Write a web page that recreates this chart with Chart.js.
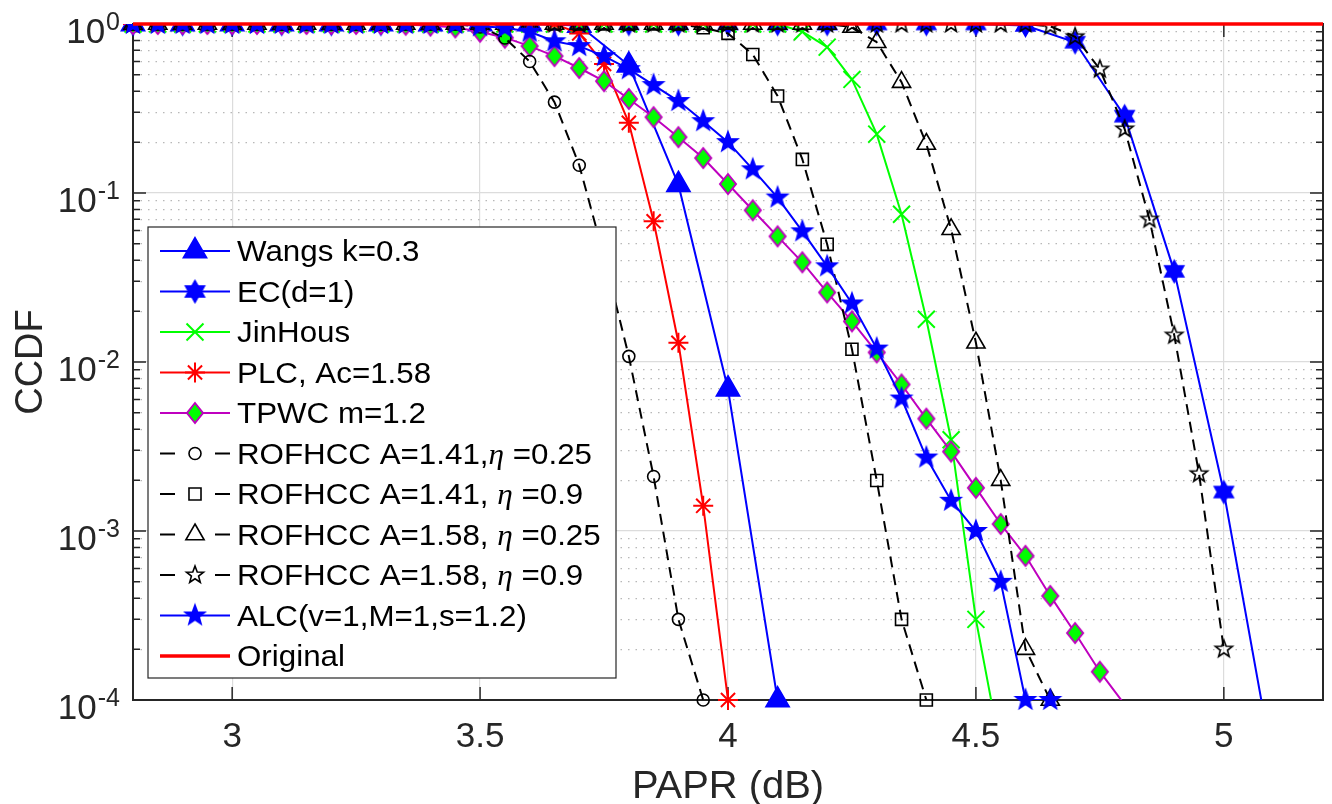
<!DOCTYPE html>
<html>
<head>
<meta charset="utf-8">
<script src="https://cdn.jsdelivr.net/npm/chart.js@4.4.1/dist/chart.umd.min.js"></script>
<style>
  html, body { margin: 0; padding: 0; background: #ffffff; }
  #wrap { width: 1332px; height: 804px; }
</style>
</head>
<body>
<div id="wrap"><canvas id="ccdfChart" width="1332" height="804"></canvas></div>
<script>
// PAPR grids (dB)
const papr05 = [2.8, 2.85, 2.9, 2.95, 3.0, 3.05, 3.1, 3.15, 3.2, 3.25, 3.3, 3.35, 3.4, 3.45, 3.5, 3.55, 3.6, 3.65, 3.7, 3.75,
  3.8, 3.85, 3.9, 3.95, 4.0, 4.05, 4.1, 4.15, 4.2, 4.25, 4.3, 4.35, 4.4, 4.45, 4.5, 4.55, 4.6, 4.65, 4.7, 4.75,
  4.8, 4.85, 4.9, 4.95, 5.0, 5.05, 5.1, 5.15, 5.2];
const papr10 = [2.8, 2.9, 3.0, 3.1, 3.2, 3.3, 3.4, 3.5, 3.6, 3.7, 3.8, 3.9, 4.0, 4.1, 4.2, 4.3, 4.4, 4.5, 4.6, 4.7, 4.8, 4.9, 5.0, 5.1];

// CCDF values
const wangsCcdf = [1, 1, 1, 1, 1, 1, 1, 1, 1, 0.98, 0.57, 0.112, 0.0069, 1e-4];
const ecCcdf = [1, 1, 1, 1, 1, 1, 1, 1, 1, 1, 1, 1, 1, 1, 1, 1, 1, 1, 0.98, 0.78, 0.285, 0.0344, 0.0017, 4e-5];
const jinHousCcdf = [1, 1, 1, 1, 1, 1, 1, 1, 1, 1, 1, 1, 1, 1, 1, 1, 1, 1, 1, 1, 1, 1, 1, 1, 1, 1, 1,
  0.9, 0.73, 0.47, 0.223, 0.0748, 0.0179, 0.00347, 0.0003, 5e-5];
const plcCcdf = [1, 1, 1, 1, 1, 1, 1, 1, 1, 1, 1, 1, 1, 1, 1, 1, 1, 1,
  0.88, 0.58, 0.26, 0.068, 0.013, 0.00141, 1e-4];
const tpwcCcdf = [1, 1, 1, 1, 1, 1, 1, 1, 1, 1, 1,
  0.99, 0.98, 0.955, 0.9, 0.83, 0.74, 0.646, 0.549, 0.459, 0.36, 0.281, 0.214, 0.161, 0.113, 0.079, 0.0554, 0.0389,
  0.0258, 0.0174, 0.0114, 0.00736, 0.00462, 0.00295, 0.0018, 0.0011, 0.000713, 0.000413, 0.000249, 0.000147, 9.4e-5];
const rof141a = [1, 1, 1, 1, 1, 1, 1, 1, 1, 1, 1, 1, 1, 1,
  0.96, 0.826, 0.6, 0.345, 0.146, 0.042, 0.0108, 0.0021, 0.0003, 1e-4];
const rof141b = [1, 1, 1, 1, 1, 1, 1, 1, 1, 1, 1, 1, 1, 1, 1, 1, 1, 1, 1, 1, 1, 1, 1,
  0.95, 0.88, 0.66, 0.375, 0.158, 0.0497, 0.0119, 0.00199, 0.0003, 1e-4];
const rof158a = [1, 1, 1, 1, 1, 1, 1, 1, 1, 1, 1, 1, 1, 1, 1, 1, 1, 1, 1, 1, 1, 1, 1, 1, 1, 1, 1, 1, 1,
  0.96, 0.78, 0.453, 0.195, 0.061, 0.013, 0.002, 0.0002, 1e-4];
const rof158b = [1, 1, 1, 1, 1, 1, 1, 1, 1, 1, 1, 1, 1, 1, 1, 1, 1, 1, 1, 1, 1, 1, 1, 1, 1, 1, 1, 1, 1, 1, 1, 1, 1, 1, 1, 1, 1,
  0.97, 0.84, 0.54, 0.239, 0.0699, 0.0144, 0.00218, 0.0002];
const alcCcdf = [1, 1, 1, 1, 1, 1, 1, 1, 1, 1, 1, 1, 1, 1,
  0.97, 0.95, 0.9, 0.79, 0.74, 0.646, 0.54, 0.435, 0.35, 0.266, 0.2, 0.138, 0.094, 0.0593, 0.0368, 0.0222, 0.012,
  0.00608, 0.00272, 0.00151, 0.001, 0.0005, 1e-4, 1e-4];
const originalCcdf = [1, 1, 1, 1, 1, 1, 1, 1, 1, 1, 1, 1, 1, 1, 1, 1, 1, 1, 1, 1, 1, 1, 1, 1, 1,
  1, 1, 1, 1, 1, 1, 1, 1, 1, 1, 1, 1, 1, 1, 1, 1, 1, 1, 1, 1, 1, 1, 1, 1];

// axis ticks
const xTicks = [3, 3.5, 4, 4.5, 5];
const yDecades = [1e-4, 1e-3, 1e-2, 1e-1, 1];
const Y_MIN = 1e-4;

const FONT = '"Liberation Sans", Arial, Helvetica, sans-serif';
const isDecade = v => Math.abs(Math.log10(v) - Math.round(Math.log10(v))) < 1e-6;

// marker images for shapes Chart.js lacks
function starCanvas(nPts, outerR, innerRatio, fill, stroke, lw) {
  const size = Math.ceil(2 * (outerR + lw + 2));
  const c = document.createElement('canvas');
  c.width = size; c.height = size;
  const g = c.getContext('2d');
  g.translate(size / 2, size / 2);
  g.beginPath();
  for (let k = 0; k < nPts * 2; k++) {
    const r = k % 2 === 0 ? outerR : outerR * innerRatio;
    const a = -Math.PI / 2 + k * Math.PI / nPts;
    if (k === 0) g.moveTo(r * Math.cos(a), r * Math.sin(a));
    else g.lineTo(r * Math.cos(a), r * Math.sin(a));
  }
  g.closePath();
  if (fill) { g.fillStyle = fill; g.fill(); }
  g.lineWidth = lw; g.strokeStyle = stroke; g.stroke();
  return c;
}
function diamondCanvas(w, h, fill, stroke, lw) {
  const cw = Math.ceil(w + 2 * lw + 4), ch = Math.ceil(h + 2 * lw + 4);
  const c = document.createElement('canvas');
  c.width = cw; c.height = ch;
  const g = c.getContext('2d');
  g.translate(cw / 2, ch / 2);
  g.beginPath();
  g.moveTo(0, -h / 2); g.lineTo(w / 2, 0); g.lineTo(0, h / 2); g.lineTo(-w / 2, 0);
  g.closePath();
  g.fillStyle = fill; g.fill();
  g.lineWidth = lw; g.strokeStyle = stroke; g.stroke();
  return c;
}

const hexBlue = starCanvas(6, 11, 0.577, '#0000ff', '#0000ff', 1.5);
const pentBlue = starCanvas(5, 10.5, 0.42, '#0000ff', '#0000ff', 1.5);
const pentOpen = starCanvas(5, 9, 0.42, null, '#000000', 1.6);
const diamondGreen = diamondCanvas(16, 20, '#00ff00', '#bf00bf', 2);

const DASHED = [11, 7];
const series = [
  { label: [['Wangs k=0.3']], x: papr10, y: wangsCcdf, color: '#0000ff', dash: [], style: 'triangle', r: 13.5, fill: '#0000ff', mlw: 1.5 },
  { label: [['EC(d=1)']], x: papr10, y: ecCcdf, color: '#0000ff', dash: [], style: hexBlue, r: 11 },
  { label: [['JinHous']], x: papr05, y: jinHousCcdf, color: '#00ff00', dash: [], style: 'crossRot', r: 12, fill: 'rgba(0,0,0,0)', mlw: 2 },
  { label: [['PLC, Ac=1.58']], x: papr05, y: plcCcdf, color: '#ff0000', dash: [], style: 'star', r: 10, fill: 'rgba(0,0,0,0)', mlw: 2 },
  { label: [['TPWC m=1.2']], x: papr05, y: tpwcCcdf, color: '#bf00bf', dash: [], style: diamondGreen, r: 10 },
  { label: [['ROFHCC A=1.41,'], ['η', 'eta'], [' =0.25']], x: papr05, y: rof141a, color: '#000000', dash: DASHED, style: 'circle', r: 6, fill: 'rgba(0,0,0,0)', mlw: 1.6 },
  { label: [['ROFHCC A=1.41, '], ['η', 'eta'], [' =0.9']], x: papr05, y: rof141b, color: '#000000', dash: DASHED, style: 'rect', r: 8.5, fill: 'rgba(0,0,0,0)', mlw: 1.6 },
  { label: [['ROFHCC A=1.58, '], ['η', 'eta'], [' =0.25']], x: papr05, y: rof158a, color: '#000000', dash: DASHED, style: 'triangle', r: 10.5, fill: 'rgba(0,0,0,0)', mlw: 1.6 },
  { label: [['ROFHCC A=1.58, '], ['η', 'eta'], [' =0.9']], x: papr05, y: rof158b, color: '#000000', dash: DASHED, style: pentOpen, r: 9 },
  { label: [['ALC(v=1,M=1,s=1.2)']], x: papr05, y: alcCcdf, color: '#0000ff', dash: [], style: pentBlue, r: 10.5 },
  { label: [['Original']], x: papr05, y: originalCcdf, color: '#ff0000', dash: [], style: null, lw: 3.5 }
];

const datasets = [];
series.forEach((s, i) => {
  const pts = s.y.map((v, k) => ({ x: s.x[k], y: v }));
  const order = (series.length - i) * 2;
  // line part: clipped tightly at the axes
  datasets.push({
    data: pts,
    borderColor: s.color,
    borderWidth: s.lw || 2,
    borderDash: s.dash,
    pointRadius: 0,
    pointHoverRadius: 0,
    fill: false,
    tension: 0,
    clip: s.style ? 0 : false,
    order: order
  });
  // marker part: markers on the bottom edge stay whole, points below the range are hidden
  if (s.style) {
    datasets.push({
      data: pts,
      showLine: false,
      pointStyle: s.style,
      pointRadius: c => (c.raw && c.raw.y < Y_MIN) ? 0 : s.r,
      pointHoverRadius: s.r,
      pointBorderColor: s.color,
      pointBackgroundColor: s.fill || s.color,
      pointBorderWidth: s.mlw || 1.5,
      clip: { left: 14, top: 0, right: 14, bottom: 14 },
      order: order - 1
    });
  }
});

function drawText(ctx, str, x, y, font, sx, align) {
  ctx.save();
  ctx.font = font;
  const w = ctx.measureText(str).width * sx;
  let left = x;
  if (align === 'center') left = x - w / 2;
  if (align === 'right') left = x - w;
  ctx.translate(left, y);
  ctx.scale(sx, 1);
  ctx.textAlign = 'left';
  ctx.textBaseline = 'alphabetic';
  ctx.fillText(str, 0, 0);
  ctx.restore();
  return w;
}

function legendMarker(ctx, s, px, py) {
  const opts = { pointStyle: s.style, radius: s.r, borderWidth: s.mlw || 1.5, rotation: 0 };
  if (Chart.helpers && Chart.helpers.drawPoint) {
    Chart.helpers.drawPoint(ctx, opts, px, py);
  } else if (typeof s.style === 'object') {
    ctx.drawImage(s.style, px - s.style.width / 2, py - s.style.height / 2);
  }
}

const framePlugin = {
  id: 'frame',
  beforeDatasetsDraw(chart) {
    const { ctx, chartArea: a, scales: { x, y } } = chart;
    ctx.save();
    ctx.strokeStyle = '#262626';
    ctx.lineWidth = 1.5;
    ctx.beginPath();
    xTicks.forEach(v => {
      const px = x.getPixelForValue(v);
      ctx.moveTo(px, a.bottom); ctx.lineTo(px, a.bottom - 13);
      ctx.moveTo(px, a.top); ctx.lineTo(px, a.top + 13);
    });
    y.ticks.forEach(t => {
      const py = y.getPixelForValue(t.value);
      const len = isDecade(t.value) ? 13 : 7;
      ctx.moveTo(a.left, py); ctx.lineTo(a.left + len, py);
      ctx.moveTo(a.right, py); ctx.lineTo(a.right - len, py);
    });
    ctx.stroke();
    ctx.lineWidth = 2;
    ctx.strokeRect(a.left, a.top, a.right - a.left, a.bottom - a.top);
    ctx.restore();
  },
  afterDraw(chart) {
    const { ctx, chartArea: a, scales: { x, y } } = chart;
    ctx.save();
    ctx.fillStyle = '#262626';

    // x tick labels
    xTicks.forEach(v => {
      drawText(ctx, String(v), x.getPixelForValue(v), 747, '35px ' + FONT, 1, 'center');
    });
    // y tick labels 10^k
    yDecades.forEach(v => {
      const py = y.getPixelForValue(v);
      const e = Math.round(Math.log10(v));
      const expStr = e < 0 ? '-' + (-e) : String(e);
      ctx.font = '25px ' + FONT;
      const ew = ctx.measureText(expStr).width;
      drawText(ctx, expStr, 120 - ew, py + 6, '25px ' + FONT, 1, 'left');
      drawText(ctx, '10', 120 - ew - 1, py + 19, '35px ' + FONT, 1, 'right');
    });
    // axis titles
    drawText(ctx, 'PAPR (dB)', (a.left + a.right) / 2, 798, '38px ' + FONT, 1.05, 'center');
    ctx.save();
    ctx.translate(42, (a.top + a.bottom) / 2);
    ctx.rotate(-Math.PI / 2);
    ctx.font = '38px ' + FONT;
    ctx.textAlign = 'center';
    ctx.textBaseline = 'alphabetic';
    ctx.fillText('CCDF', 0, 0);
    ctx.restore();

    // legend box
    const box = { left: 148, top: 227, right: 616, bottom: 678 };
    ctx.fillStyle = '#ffffff';
    ctx.fillRect(box.left, box.top, box.right - box.left, box.bottom - box.top);
    ctx.strokeStyle = '#262626';
    ctx.lineWidth = 1.2;
    ctx.strokeRect(box.left, box.top, box.right - box.left, box.bottom - box.top);

    series.forEach((s, i) => {
      const cy = 251 + i * 40.5;
      ctx.save();
      ctx.strokeStyle = s.color;
      ctx.lineWidth = s.lw || 2;
      ctx.setLineDash(s.dash.length ? [15, 40] : []);
      ctx.beginPath();
      ctx.moveTo(160, cy); ctx.lineTo(230, cy);
      ctx.stroke();
      ctx.setLineDash([]);
      if (s.style) {
        ctx.fillStyle = s.fill || s.color;
        ctx.strokeStyle = s.color;
        ctx.lineWidth = s.mlw || 1.5;
        legendMarker(ctx, s, 195, cy);
      }
      ctx.restore();
      ctx.fillStyle = '#000000';
      let tx = 237;
      s.label.forEach(part => {
        const font = part[1] === 'eta' ? 'italic 29px "Liberation Serif", "DejaVu Serif", serif' : '29px ' + FONT;
        tx += drawText(ctx, part[0], tx, cy + 10, font, 1.08, 'left');
      });
    });
    ctx.restore();
  }
};

new Chart(document.getElementById('ccdfChart'), {
  type: 'line',
  data: { datasets: datasets },
  plugins: [framePlugin],
  options: {
    responsive: false,
    animation: false,
    devicePixelRatio: 1,
    events: [],
    layout: { autoPadding: false, padding: { left: 133, right: 9, top: 24, bottom: 104 } },
    plugins: { legend: { display: false }, tooltip: { enabled: false } },
    scales: {
      x: {
        type: 'linear',
        min: 2.8,
        max: 5.2,
        afterBuildTicks: scale => { scale.ticks = xTicks.map(v => ({ value: v })); },
        ticks: { display: false },
        grid: { color: '#dcdcdc', lineWidth: 1.2, drawTicks: false },
        border: { display: false }
      },
      y: {
        type: 'logarithmic',
        min: Y_MIN,
        max: 1,
        afterBuildTicks: scale => {
          const t = [];
          yDecades.forEach(d => {
            if (d === 1) { t.push({ value: 1 }); return; }
            for (let m = 1; m <= 9; m++) t.push({ value: m * d });
          });
          scale.ticks = t;
        },
        ticks: { display: false },
        grid: {
          color: c => (c.tick && isDecade(c.tick.value)) ? '#dcdcdc' : '#b8b8b8',
          lineWidth: 1.2,
          drawTicks: false
        },
        border: {
          display: false,
          dash: c => (c.tick && !isDecade(c.tick.value)) ? [1.5, 6] : []
        }
      }
    }
  }
});
</script>
</body>
</html>
